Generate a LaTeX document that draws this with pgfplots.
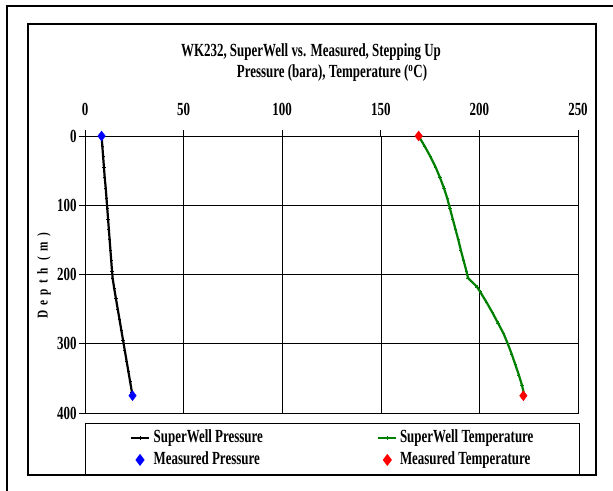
\documentclass[border=0pt]{standalone}
\usepackage{fontspec}
\setmainfont{Liberation Serif}
\newfontfamily\cfont[FakeStretch=0.7]{Liberation Serif Bold}
\newfontfamily\lfont[FakeStretch=0.75,LetterSpace=35]{Liberation Serif Bold}
\usepackage{pgfplots}
\pgfplotsset{compat=1.18}
\definecolor{swgreen}{RGB}{0,128,0}
\newcommand{\cf}{\cfont\fontsize{18.5bp}{21bp}\selectfont}

\pgfplotstableread{
depth p
0 8.4
15 8.8
30 9.2
45 9.6
60 10.0
75 10.5
90 10.9
105 11.3
120 11.7
135 12.1
150 12.5
165 12.9
180 13.3
195 13.7
205 14.0
220 14.8
235 15.7
250 16.6
265 17.5
280 18.4
295 19.3
310 20.2
325 21.1
340 22.0
355 22.9
370 23.8
375 24.1
}\swpres

\pgfplotstableread{
depth t
0 169.2
15 172.3
30 175.2
45 177.8
60 180.0
75 182.0
90 183.7
105 185.1
120 186.5
135 187.9
150 189.3
165 190.6
180 192.0
195 193.4
205 194.2
210 196.0
218 198.8
225 200.4
240 203.6
255 206.6
270 209.4
285 212.2
300 214.4
315 216.4
330 218.2
345 220.0
360 221.6
370 222.4
375 222.6
}\swtemp

\begin{document}
\begin{tikzpicture}
\path[use as bounding box] (0,0) rectangle (613bp,-491bp);
\draw[line width=2.5bp] (7bp,-495bp) -- (7bp,-6bp) -- (615bp,-6bp);
\draw[line width=1.1bp] (28bp,-24bp) rectangle (596bp,-475bp);
\node[font=\cf] at (311bp,-52bp) {WK232, SuperWell vs. Measured, Stepping Up};
\node[font=\cf] at (332bp,-73bp) {Pressure (bara), Temperature (\textsuperscript{o}C)};
\node[rotate=90,font=\lfont\fontsize{15bp}{17bp}\selectfont] at (44bp,-276bp) {Depth (m)};
\begin{axis}[
  at={(85bp,-136bp)}, anchor=north west,
  scale only axis, width=493bp, height=277bp,
  xmin=0, xmax=250, ymin=0, ymax=400, y dir=reverse,
  xtick={0,50,...,250}, ytick={0,100,...,400},
  xtick pos=right, xticklabel pos=right, ytick pos=left,
  tick align=outside, major tick length=6bp,
  grid=major, major grid style={black, line width=0.6bp},
  axis line style={black, line width=0.7bp},
  tick style={black, line width=0.7bp},
  /pgf/number format/assume math mode=true,
  ticklabel style={font=\cf},
  xticklabel style={yshift=11bp},
  yticklabel style={xshift=1bp},
  legend columns=2,
  legend style={at={(axis description cs:0,0)}, anchor=north west, yshift=-10bp,
    draw=black, line width=0.8bp, inner xsep=45bp, inner ysep=6bp,
    column sep=0pt, row sep=5bp,
    nodes={inner sep=0pt, text height=13bp, text depth=4bp, font=\cf},
    cells={anchor=west}},
  legend image code/.code={\draw[mark repeat=2,mark phase=2,#1] plot coordinates {(0bp,0bp) (9bp,0bp) (18bp,0bp)};},
  legend image post style={line width=1.3bp},
]
\addplot[black, line width=2.2bp, mark=+, mark size=1.6bp, mark options={line width=0.8bp}] table[x=p,y=depth] {\swpres};
\addlegendentry{\makebox[228bp][l]{\hspace{4bp}SuperWell Pressure}}
\addplot[swgreen, line width=2.2bp, mark=+, mark size=1.6bp, mark options={line width=0.8bp}] table[x=t,y=depth] {\swtemp};
\addlegendentry{\makebox[137bp][l]{\hspace{3bp}SuperWell Temperature}}
\addplot[only marks, blue, mark=diamond*, mark size=5bp] coordinates {(8.4,0) (24.1,375)};
\addlegendentry{\makebox[228bp][l]{\hspace{4bp}Measured Pressure}}
\addplot[only marks, red, mark=diamond*, mark size=5bp] coordinates {(169.2,0) (222.3,375)};
\addlegendentry{\makebox[137bp][l]{\hspace{3bp}Measured Temperature}}
\end{axis}
\end{tikzpicture}
\end{document}
